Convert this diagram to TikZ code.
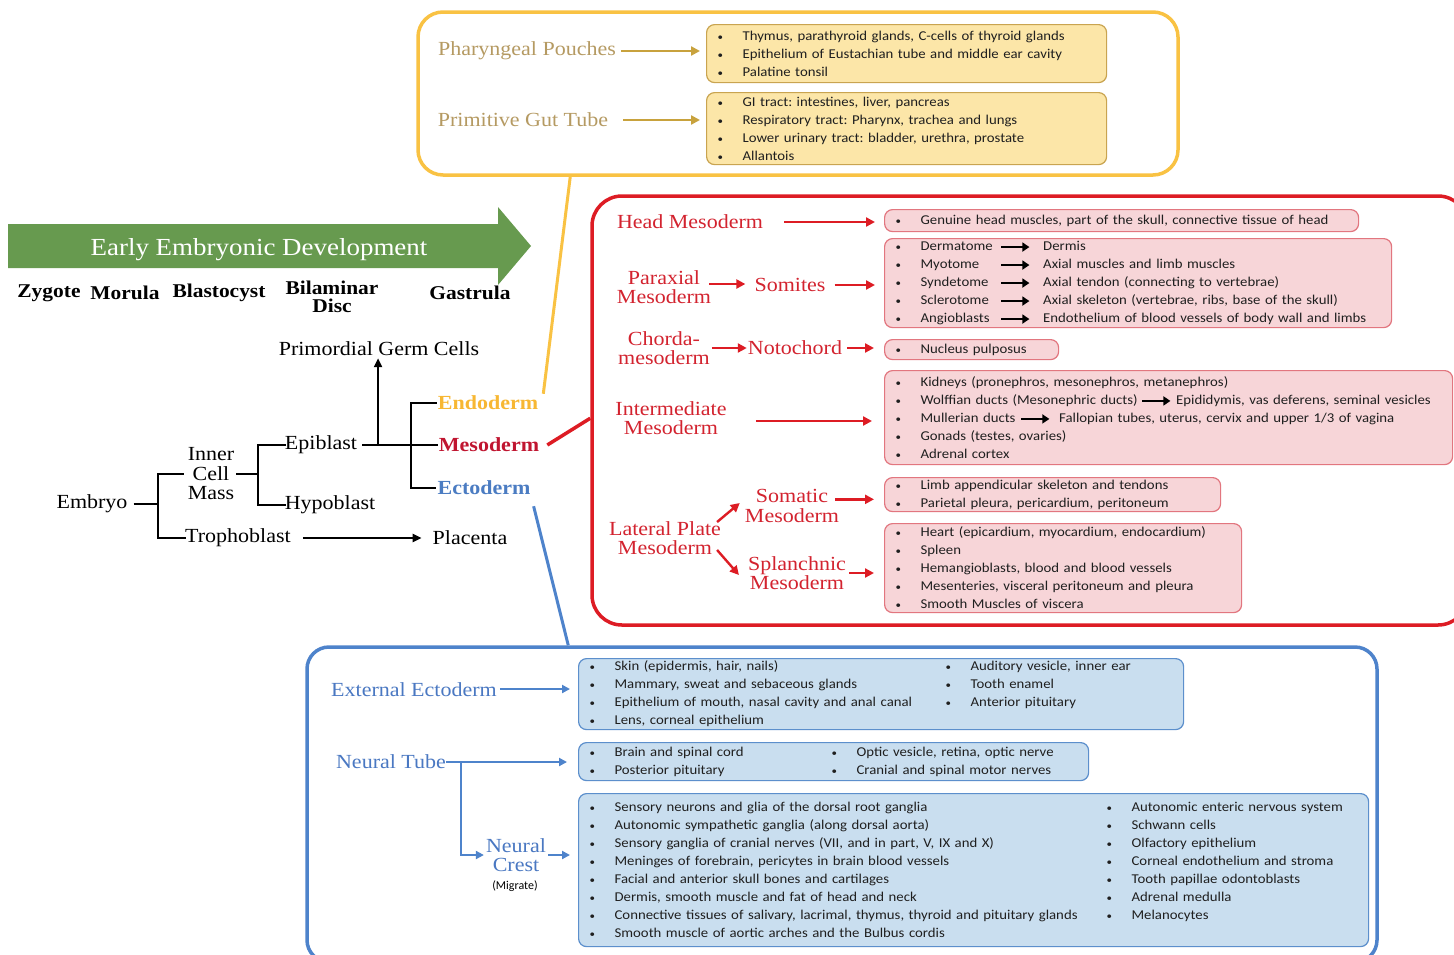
\documentclass[tikz,border=0pt]{standalone}
\usepackage{fontspec}
\setmainfont{Liberation Serif}[FakeStretch=1.1]
\newfontfamily\boxfont{Carlito}[FakeStretch=1.095]
\newfontfamily\plainsans{Carlito}
\usetikzlibrary{arrows.meta,calc}

\definecolor{yel}{HTML}{F9C243}
\definecolor{yelfill}{HTML}{FCE6A8}
\definecolor{yelborder}{HTML}{C9A450}
\definecolor{tantext}{HTML}{B59A62}
\definecolor{goldarrow}{HTML}{C8A23D}
\definecolor{redline}{HTML}{DD1C24}
\definecolor{redtext}{HTML}{D3232F}
\definecolor{pinkfill}{HTML}{F7D5D8}
\definecolor{pinkborder}{HTML}{E2767F}
\definecolor{blueline}{HTML}{4E83CB}
\definecolor{bluetext}{HTML}{4A78C2}
\definecolor{bluefill}{HTML}{C9DEEF}
\definecolor{blueborder}{HTML}{5C8FCC}
\definecolor{grn}{HTML}{679A4F}
\definecolor{endoc}{HTML}{F7B733}
\definecolor{mesoc}{HTML}{C01530}
\definecolor{ectoc}{HTML}{4B7CC2}

\newcommand{\bl}{\makebox[26pt][l]{\hspace{1pt}{\fontsize{10}{10}\selectfont •}}}
\newcommand{\tc}[3]{\makebox[#1][l]{\bl #2}\bl #3}
\newcommand{\barr}{\tikz[baseline=-0.55ex]\draw[draw=black,line width=1.6pt,-{Triangle[length=7pt,width=9pt]}] (0pt,0pt) -- (28pt,0pt);}

\tikzset{
  lab/.style={inner sep=0pt, align=center, font=\fontsize{20}{19.5}\selectfont},
  stage/.style={inner sep=0pt, align=center, font=\bfseries\fontsize{19.5}{18}\selectfont},
  germ/.style={inner sep=0pt, font=\bfseries\fontsize{20}{20}\selectfont},
  tree/.style={line width=2.4pt, draw=black},
  treearr/.style={tree, -{Triangle[length=9pt,width=8pt]}},
  obox/.style={line width=3.5pt, fill=white, inner sep=0pt},
  ibox/.style={rounded corners=8pt, line width=1.2pt, inner xsep=10pt, inner ysep=0pt,
    anchor=north west, align=left, text=black!88,
    font=\boxfont\fontsize{13.5}{18}\selectfont\frenchspacing},
  ybx/.style={ibox, fill=yelfill, draw=yelborder},
  pbx/.style={ibox, fill=pinkfill, draw=pinkborder},
  bbx/.style={ibox, fill=bluefill, draw=blueborder},
  yarr/.style={draw=goldarrow, line width=2.4pt, -{Triangle[length=9pt,width=9pt]}},
  rarr/.style={draw=redline, line width=2.4pt, -{Triangle[length=9pt,width=9pt]}},
  barrow/.style={draw=blueline, line width=2pt, -{Triangle[length=8pt,width=8pt]}},
}

\begin{document}
\begin{tikzpicture}[x=1pt,y=-1pt]
\useasboundingbox (0,0) rectangle (1454,954);
\clip (0,0) rectangle (1454,954);

% ---------- outer frames ----------
\node[obox, draw=yel, rounded corners=25pt, minimum width=760pt, minimum height=163pt] (ybox) at (798,93.5) {};
\node[obox, draw=redline, rounded corners=30pt, minimum width=876pt, minimum height=429pt] (rbox) at (1030,410.5) {};
\node[obox, draw=blueline, rounded corners=22pt, minimum width=1070pt, minimum height=315pt] (bbox) at (842,804.5) {};

% ---------- green arrow ----------
\fill[grn] (8,224) -- (498,224) -- (498,207) -- (531,246) -- (498,285) -- (498,268) -- (8,268) -- cycle;
\node[inner sep=0pt, text=white, font=\fontsize{24.5}{24.5}\selectfont] (eed) at (259,250) {Early Embryonic Development};

% ---------- stages ----------
\node[stage] (zyg) at (49,293) {Zygote};
\node[stage] (mor) at (125,293) {Morula};
\node[stage] (bla) at (219,293) {Blastocyst};
\node[stage] (bil) at (332,297) {Bilaminar\\Disc};
\node[stage] (gas) at (470,293) {Gastrula};

% ---------- tree ----------
\node[lab] (pgc) at (379,349) {Primordial Germ Cells};
\node[lab] (emb) at (92,504) {Embryo};
\node[lab, font=\fontsize{20}{19.5}\selectfont] (icm) at (211,474) {Inner\\Cell\\Mass};
\node[lab] (epi) at (321,445) {Epiblast};
\node[lab] (hypo) at (330,505) {Hypoblast};
\node[lab] (tro) at (238,538) {Trophoblast};
\node[lab] (pla) at (470,538) {Placenta};
\node[germ, text=endoc] (endo) at (488,403) {Endoderm};
\node[germ, text=mesoc] (meso) at (489,445) {Mesoderm};
\node[germ, text=ectoc] (ecto) at (484,488) {Ectoderm};

\coordinate (j1) at (158,504);
\coordinate (j2) at (258,474);
\coordinate (pj) at (378,445);
\coordinate (j3) at (411,445);

\draw[tree] ($(emb.east)+(6,0)$) -- (j1);
\draw[tree] ($(icm.west |- j2)+(-4,0)$) -| (j1 |- tro.west) -- ($(tro.west)+(1,0)$);
\draw[tree] ($(icm.east |- j2)+(2,0)$) -- (j2);
\draw[tree] ($(epi.west)+(1,0)$) -| (j2 |- hypo.west) -- ($(hypo.west)+(1,0)$);
\draw[tree] ($(epi.east)+(5,0)$) -- ($(meso.west)+(-1,0)$);
\draw[treearr] (pj) -- ($(pgc.south)+(-1,2)$);
\draw[tree] ($(endo.west)+(-1,0)$) -| (j3 |- ecto.west) -- ($(ecto.west)+(-1,0)$);
\draw[treearr] ($(tro.east)+(12,0)$) -- ($(pla.west)+(-11,0)$);

% ---------- connectors to frames ----------
\draw[draw=yel, line width=3pt] ($(endo.north east)+(5,-2)$) -- ($(ybox.south west)+(154,0)$);
\draw[draw=redline, line width=3.5pt] ($(meso.east)+(8,0)$) -- ($(rbox.north west)+(0,224)$);
\draw[draw=blueline, line width=3pt] ($(ecto.south east)+(3,11)$) -- ($(bbox.north west)+(263,0)$);

% ---------- endoderm frame ----------
\node[lab, text=tantext] (pp) at (527,51) {Pharyngeal Pouches};
\node[lab, text=tantext] (pgt) at (523,120) {Primitive Gut Tube};
\node[ybx, minimum width=400pt, minimum height=58pt, text width=380pt] (yb1) at (706,24) {%
\bl Thymus, parathyroid glands, C-cells of thyroid glands\\
\bl Epithelium of Eustachian tube and middle ear cavity\\
\bl Palatine tonsil};
\node[ybx, minimum width=400pt, minimum height=72pt, text width=380pt] (yb2) at (706,92) {%
\bl GI tract: intestines, liver, pancreas\\
\bl Respiratory tract: Pharynx, trachea and lungs\\
\bl Lower urinary tract: bladder, urethra, prostate\\
\bl Allantois};
\draw[yarr] ($(pp.east)+(5,0)$) -- ($(pp.east -| yb1.west)+(-6,0)$);
\draw[yarr] ($(pgt.east)+(15,0)$) -- ($(pgt.east -| yb2.west)+(-6,0)$);

% ---------- mesoderm frame ----------
\node[lab, text=redtext] (hm) at (690,222) {Head Mesoderm};
\node[lab, text=redtext] (par) at (664,287) {Paraxial\\Mesoderm};
\node[lab, text=redtext] (som) at (790,285) {Somites};
\node[lab, text=redtext] (cho) at (664,348) {Chorda-\\mesoderm};
\node[lab, text=redtext] (not) at (795,348) {Notochord};
\node[lab, text=redtext] (int) at (671,418) {Intermediate\\Mesoderm};
\node[lab, text=redtext] (lat) at (665,538) {Lateral Plate\\Mesoderm};
\node[lab, text=redtext] (smt) at (792,506) {Somatic\\Mesoderm};
\node[lab, text=redtext] (spl) at (797,573) {Splanchnic\\Mesoderm};

\node[pbx, minimum width=474pt, minimum height=22pt, text width=454pt] (hb) at (884,209) {%
\bl Genuine head muscles, part of the skull, connective tissue of head};
\node[pbx, minimum width=507pt, minimum height=89pt, text width=487pt] (sb) at (884,238) {%
\bl\makebox[80pt][l]{Dermatome}\barr\hspace{13pt}Dermis\\
\bl\makebox[80pt][l]{Myotome}\barr\hspace{13pt}Axial muscles and limb muscles\\
\bl\makebox[80pt][l]{Syndetome}\barr\hspace{13pt}Axial tendon (connecting to vertebrae)\\
\bl\makebox[80pt][l]{Sclerotome}\barr\hspace{13pt}Axial skeleton (vertebrae, ribs, base of the skull)\\
\bl\makebox[80pt][l]{Angioblasts}\barr\hspace{13pt}Endothelium of blood vessels of body wall and limbs};
\node[pbx, minimum width=174pt, minimum height=20pt, text width=154pt] (nb) at (884,339) {%
\bl Nucleus pulposus};
\node[pbx, minimum width=568pt, minimum height=94pt, text width=548pt] (ib) at (884,370) {%
\bl Kidneys (pronephros, mesonephros, metanephros)\\
\mbox{\bl Wolffian ducts (Mesonephric ducts)\hspace{4pt}\barr\hspace{5pt}Epididymis, vas deferens, seminal vesicles}\\
\mbox{\bl Mullerian ducts\hspace{5pt}\barr\hspace{9pt}Fallopian tubes, uterus, cervix and upper 1/3 of vagina}\\
\bl Gonads (testes, ovaries)\\
\bl Adrenal cortex};
\node[pbx, minimum width=336pt, minimum height=34pt, text width=316pt] (smb) at (884,477) {%
\bl Limb appendicular skeleton and tendons\\
\bl Parietal pleura, pericardium, peritoneum};
\node[pbx, minimum width=357pt, minimum height=89pt, text width=337pt] (spb) at (884,523) {%
\bl Heart (epicardium, myocardium, endocardium)\\
\bl Spleen\\
\bl Hemangioblasts, blood and blood vessels\\
\bl Mesenteries, visceral peritoneum and pleura\\
\bl Smooth Muscles of viscera};

\draw[rarr] ($(hm.east)+(21,0)$) -- ($(hm.east -| hb.west)+(-9,0)$);
\draw[rarr] ($(som.west)+(-45,-1)$) -- ($(som.west)+(-9,-1)$);
\draw[rarr] ($(som.east)+(9,0)$) -- ($(som.east -| sb.west)+(-9,0)$);
\draw[rarr] ($(not.west)+(-36,0)$) -- ($(not.west)+(-1,0)$);
\draw[rarr] ($(not.east)+(5,0)$) -- ($(not.east -| nb.west)+(-10,0)$);
\draw[rarr] ($(int.east)+(29,3)$) -- ($(int.east -| ib.west)+(-12,3)$);
\draw[rarr] ($(lat.north east)+(-4,1)$) -- ($(smt.west)+(-5,-3)$);
\draw[rarr] ($(lat.south east)+(-4,-5)$) -- ($(spl.west)+(-9,2)$);
\draw[rarr] ($(smt.north east)+(-4,10)$) -- ($(smt.north east -| smb.west)+(-10,10)$);
\draw[rarr] ($(spl.east)+(3,0)$) -- ($(spl.east -| spb.west)+(-10,0)$);

% ---------- ectoderm frame ----------
\node[lab, text=bluetext] (ext) at (414,690) {External Ectoderm};
\node[lab, text=bluetext] (ntu) at (391,762) {Neural Tube};
\node[lab, text=bluetext] (ncr) at (516,855) {Neural\\Crest};
\node[inner sep=0pt, font=\plainsans\fontsize{12}{12}\selectfont] (mig) at (515,886) {(Migrate)};

\node[bbx, minimum width=605pt, minimum height=71pt, text width=585pt] (eb) at (578,658) {%
\tc{356pt}{Skin (epidermis, hair, nails)}{Auditory vesicle, inner ear}\\
\tc{356pt}{Mammary, sweat and sebaceous glands}{Tooth enamel}\\
\tc{356pt}{Epithelium of mouth, nasal cavity and anal canal}{Anterior pituitary}\\
\bl Lens, corneal epithelium};
\node[bbx, minimum width=510pt, minimum height=38pt, text width=490pt] (tb) at (578,742) {%
\tc{242pt}{Brain and spinal cord}{Optic vesicle, retina, optic nerve}\\
\tc{242pt}{Posterior pituitary}{Cranial and spinal motor nerves}};
\node[bbx, minimum width=790pt, minimum height=153pt, text width=770pt] (cb) at (578,793) {%
\tc{517pt}{Sensory neurons and glia of the dorsal root ganglia}{Autonomic enteric nervous system}\\
\tc{517pt}{Autonomic sympathetic ganglia (along dorsal aorta)}{Schwann cells}\\
\tc{517pt}{Sensory ganglia of cranial nerves (VII, and in part, V, IX and X)}{Olfactory epithelium}\\
\tc{517pt}{Meninges of forebrain, pericytes in brain blood vessels}{Corneal endothelium and stroma}\\
\tc{517pt}{Facial and anterior skull bones and cartilages}{Tooth papillae odontoblasts}\\
\tc{517pt}{Dermis, smooth muscle and fat of head and neck}{Adrenal medulla}\\
\tc{517pt}{Connective tissues of salivary, lacrimal, thymus, thyroid and pituitary glands}{Melanocytes}\\
\bl Smooth muscle of aortic arches and the Bulbus cordis};

\coordinate (nj) at ($(ntu.east)+(15,0)$);
\draw[barrow] ($(ext.east)+(3,-1)$) -- ($(ext.east -| eb.west)+(-8,-1)$);
\draw[barrow] (ntu.east) -- ($(ntu.east -| tb.west)+(-11,0)$);
\draw[barrow] (nj) |- ($(ncr.west)+(-2,0)$);
\draw[barrow] ($(ncr.east)+(2,0)$) -- ($(ncr.east -| cb.west)+(-8,0)$);

\end{tikzpicture}
\end{document}
